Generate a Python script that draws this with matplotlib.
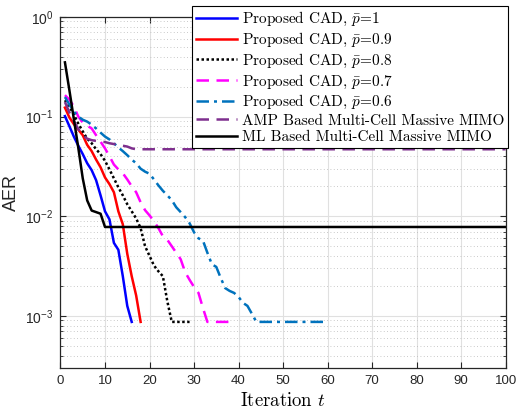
import matplotlib
matplotlib.use('Agg')
import matplotlib.pyplot as plt
import numpy as np
from matplotlib.ticker import LogLocator, NullFormatter, MultipleLocator

# values (AER vs iteration)
p10 = [0.101, 0.080, 0.063, 0.051, 0.042, 0.034, 0.029, 0.023, 0.0162, 0.0112,
       0.0093, 0.0054, 0.0046, 0.0025, 0.00126, 0.00087]
p09 = [0.123, 0.098, 0.084, 0.074, 0.065, 0.052, 0.045, 0.037, 0.031, 0.0245,
       0.021, 0.0174, 0.0112, 0.0083, 0.0042, 0.0025, 0.0016, 0.00087]
p08 = [0.146, 0.126, 0.105, 0.085, 0.071, 0.060, 0.054, 0.047, 0.042, 0.036,
       0.0295, 0.024, 0.0195, 0.0162, 0.0132, 0.0112, 0.0095, 0.0076, 0.0050, 0.0040,
       0.0032, 0.0028, 0.0025, 0.0014, 0.00087, 0.00087, 0.00087, 0.00087, 0.00087]
p07 = [0.164, 0.148, 0.126, 0.100, 0.087, 0.081, 0.076, 0.065, 0.056, 0.048,
       0.040, 0.033, 0.0295, 0.027, 0.0234, 0.020, 0.0174, 0.0138, 0.0115, 0.0102,
       0.0089, 0.0076, 0.0063, 0.0058, 0.0050, 0.0043, 0.0037, 0.00275, 0.0023, 0.00195,
       0.0017, 0.0012, 0.00087, 0.00087, 0.00087, 0.00087, 0.00087, 0.00087]
p06 = [0.157, 0.132, 0.112, 0.100, 0.093, 0.089, 0.083, 0.076, 0.069, 0.063,
       0.059, 0.054, 0.049, 0.045, 0.041, 0.037, 0.034, 0.030, 0.028, 0.0267,
       0.0234, 0.0204, 0.018, 0.0162, 0.0145, 0.0123, 0.011, 0.0098, 0.0085, 0.0069,
       0.0060, 0.0057, 0.0043, 0.0033, 0.0031, 0.0024, 0.0019, 0.00178, 0.0017, 0.00155,
       0.00135, 0.00126, 0.00105] + [0.00087] * 16
amp_head = [0.14, 0.11, 0.09, 0.075, 0.065, 0.060, 0.058, 0.057, 0.056, 0.0555,
            0.054, 0.053, 0.0525, 0.051, 0.050, 0.048]
amp = amp_head + [0.047] * (100 - len(amp_head))
ml_head = [0.35, 0.184, 0.0946, 0.0486, 0.024, 0.0144, 0.0114, 0.011, 0.0106]
ml = ml_head + [0.0078] * (100 - len(ml_head))

labels = [r'Proposed CAD, $\bar{p}$=1', r'Proposed CAD, $\bar{p}$=0.9',
          r'Proposed CAD, $\bar{p}$=0.8', r'Proposed CAD, $\bar{p}$=0.7',
          r'Proposed CAD, $\bar{p}$=0.6', 'AMP Based Multi-Cell Massive MIMO',
          'ML Based Multi-Cell Massive MIMO']

plt.rcParams['mathtext.fontset'] = 'cm'
plt.rcParams['font.family'] = ['Liberation Sans', 'DejaVu Sans']

fig = plt.figure(figsize=(5.17, 4.13), dpi=100)
ax = fig.add_axes([0.117, 0.109, 0.861, 0.850])

def it(v):
    return np.arange(1, len(v) + 1)

lw = 1.8
ax.plot(it(p10), p10, '-', color=(0, 0, 1), lw=lw, label=labels[0])
ax.plot(it(p09), p09, '-', color=(1, 0, 0), lw=lw, label=labels[1])
ax.plot(it(p08), p08, ls=(0, (1, 1)), color='k', lw=lw, label=labels[2])
ax.plot(it(p07), p07, ls=(0, (5, 3)), color=(1, 0, 1), lw=lw, label=labels[3])
ax.plot(it(p06), p06, ls=(0, (5, 2, 1.2, 2)), color='#0072BD', lw=lw, label=labels[4])
ax.plot(it(amp), amp, ls=(0, (5, 3)), color='#7E2F8E', lw=lw, label=labels[5])
ax.plot(it(ml), ml, '-', color='k', lw=lw, label=labels[6])

ax.set_yscale('log')
ax.set_xlim(0, 100)
ax.set_ylim(3e-4, 1)
ax.xaxis.set_major_locator(MultipleLocator(10))
ax.yaxis.set_major_locator(LogLocator(base=10, numticks=10))
ax.yaxis.set_minor_locator(LogLocator(base=10, subs=np.arange(2, 10), numticks=20))
ax.yaxis.set_minor_formatter(NullFormatter())

ax.grid(True, which='major', color='#e0e0e0', lw=0.8, ls='-')
ax.grid(True, which='minor', axis='y', color='#b8b8b8', lw=0.6, ls=(0, (1, 3)))
ax.set_axisbelow(True)

ax.tick_params(which='both', direction='in', top=True, right=True, colors='#262626',
               labelsize=10)
ax.tick_params(axis='x', labelsize=9.5)
ax.tick_params(which='major', length=4, pad=5)
ax.tick_params(which='minor', length=2.5)
for s in ax.spines.values():
    s.set_color('#262626')
    s.set_linewidth(0.9)

ax.set_ylabel('AER', fontsize=13, color='#262626')
ax.set_xlabel(r'Iteration $t$', fontsize=13.5, family='cmr10')

leg = ax.legend(loc='upper right', bbox_to_anchor=(0.983, 0.985),
                bbox_transform=fig.transFigure, fancybox=False, framealpha=1,
                edgecolor='k', handlelength=2.7, borderpad=0.25, labelspacing=0.18,
                handletextpad=0.3, borderaxespad=0,
                prop={'family': 'cmr10', 'size': 11})
leg.get_frame().set_linewidth(0.8)

fig.savefig('out.png', dpi=100)
